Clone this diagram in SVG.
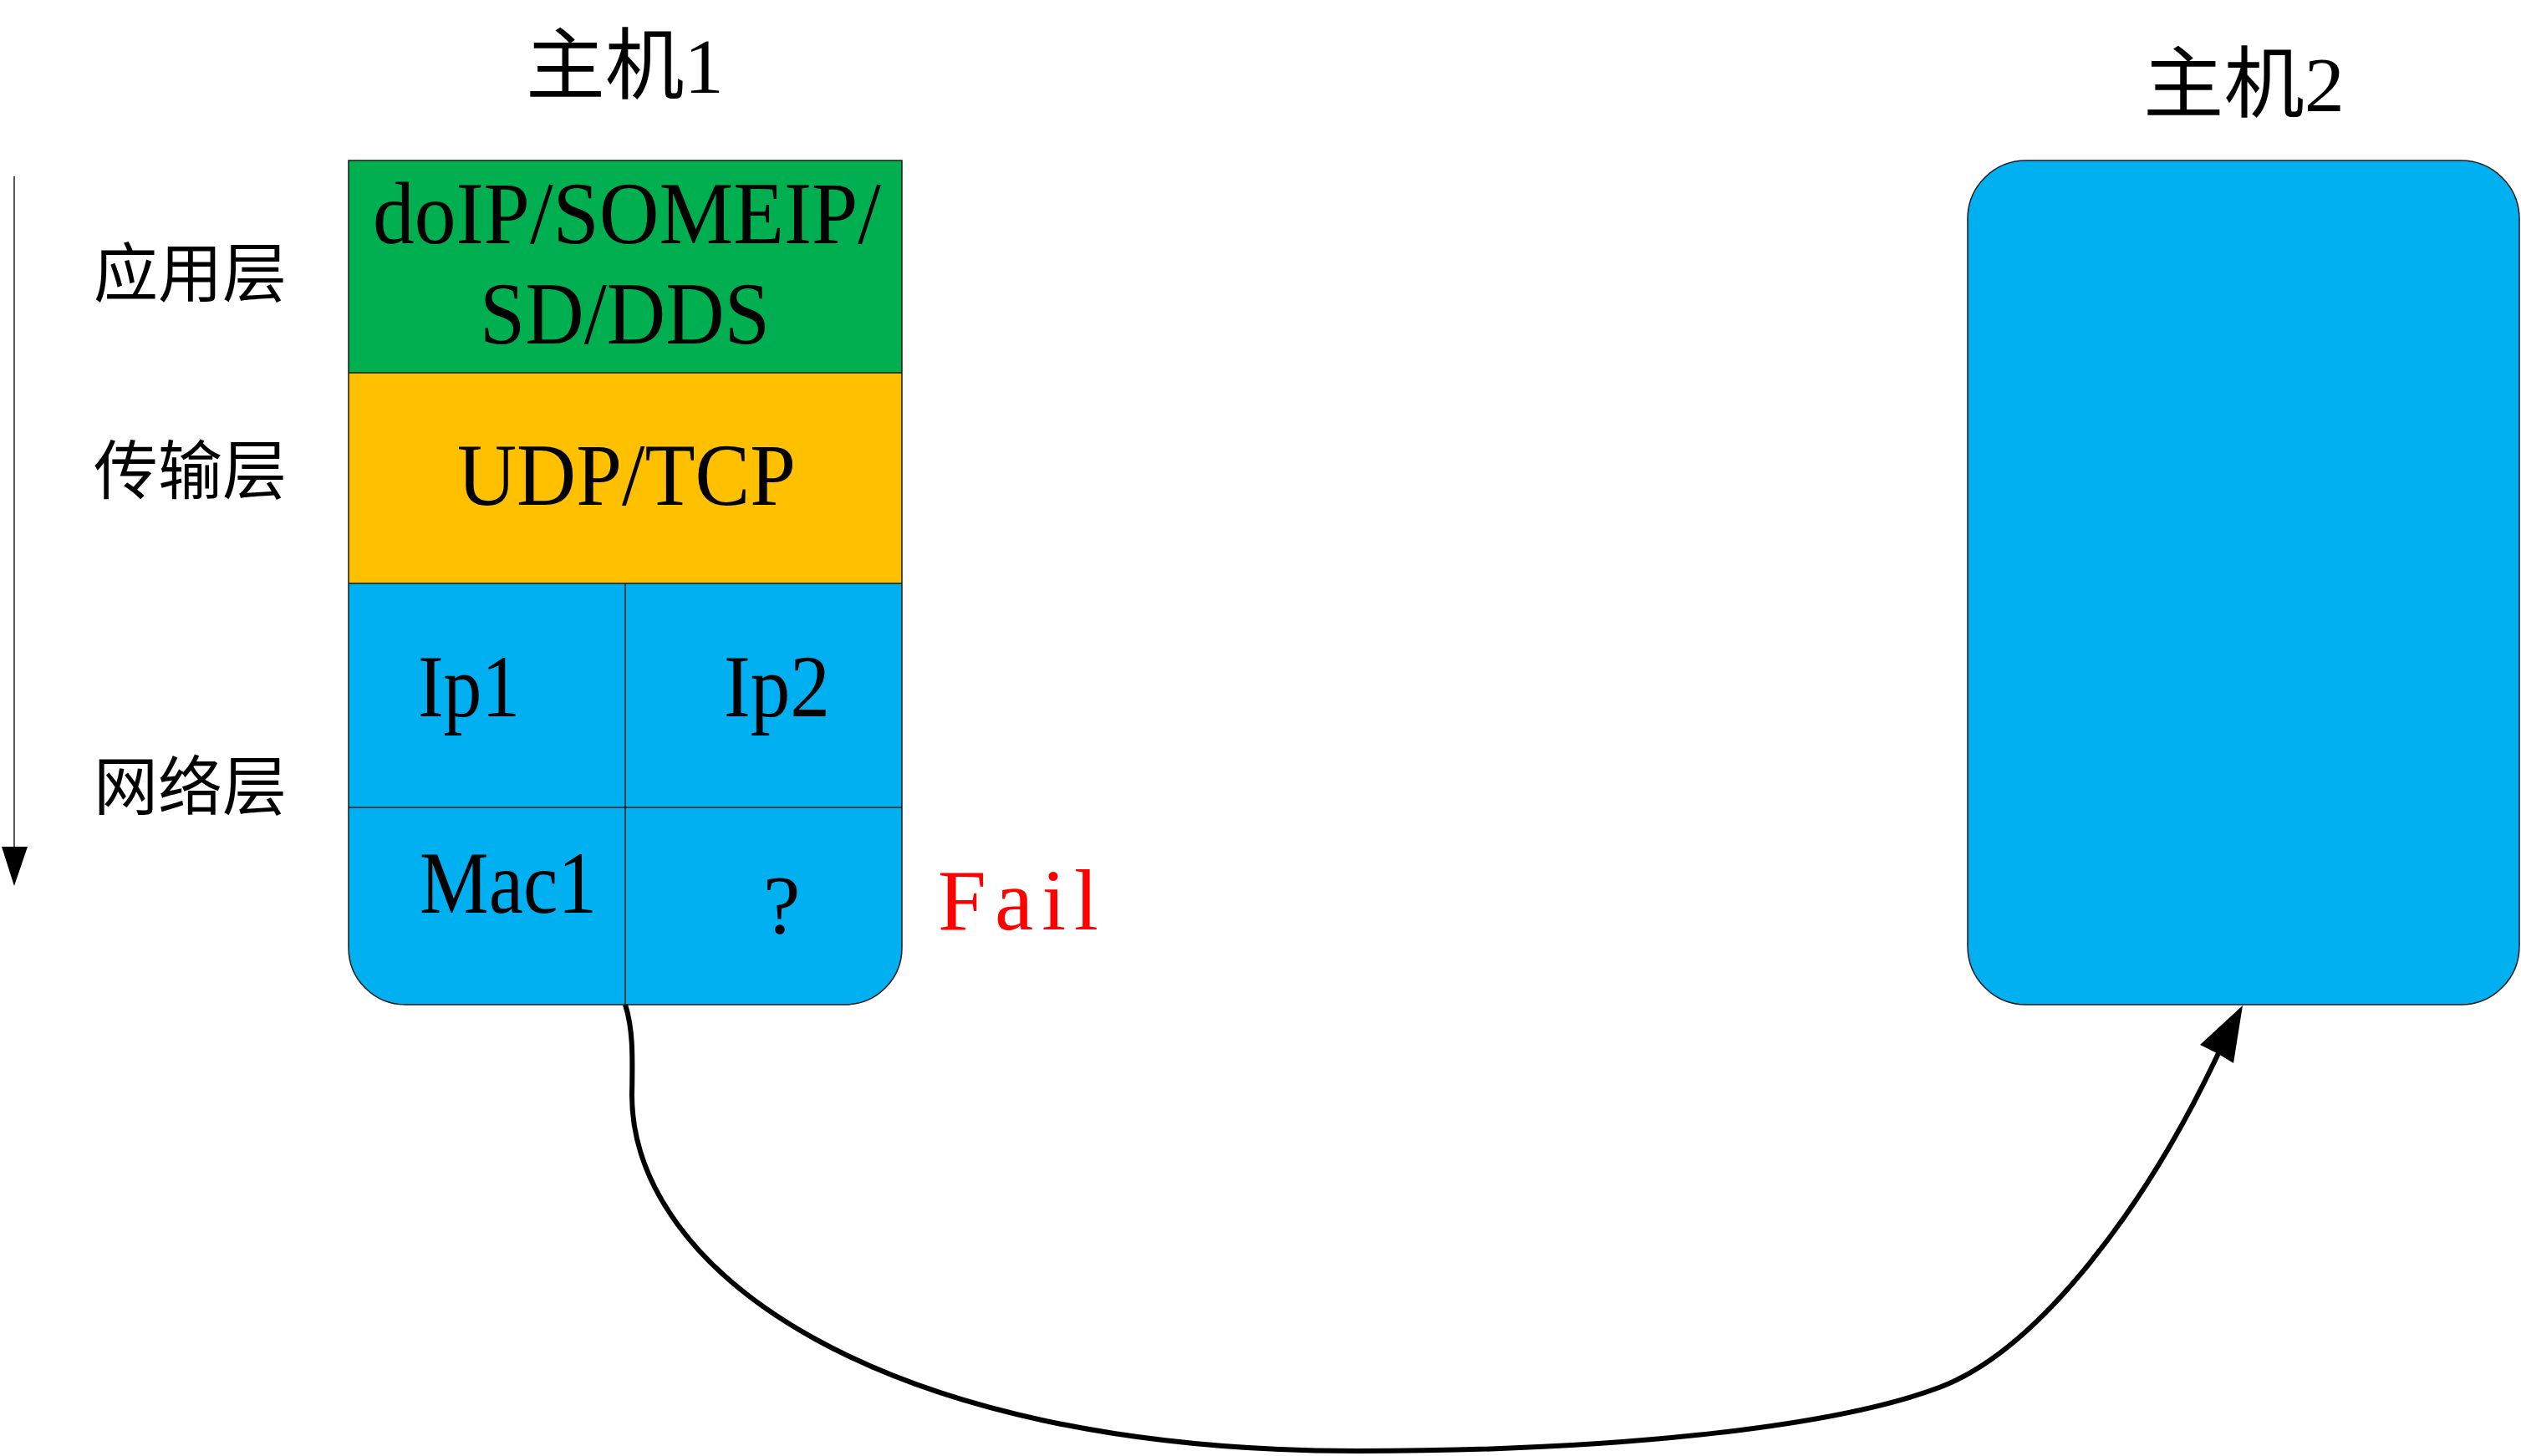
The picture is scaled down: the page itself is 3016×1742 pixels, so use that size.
<svg xmlns="http://www.w3.org/2000/svg" width="3016" height="1742" viewBox="0 0 3016 1742">
<style>
.lat{font-family:"Liberation Serif","Times New Roman",serif;fill:#000}
.cjk{font-family:"Liberation Serif","Noto Sans CJK SC",serif;fill:#000}
.edge{stroke:#1a1a1a;stroke-width:1.5;fill:none}
</style>
<rect width="3016" height="1742" fill="#fff"/>
<g id="host1">
<text class="cjk" x="629" y="111" font-size="93" textLength="237" lengthAdjust="spacingAndGlyphs">主机1</text>
<rect x="417" y="192" width="662" height="254" fill="#00B050"/>
<rect x="417" y="446" width="662" height="252" fill="#FFC000"/>
<path d="M417 698 H1079 V1134 A68 68 0 0 1 1011 1202 H485 A68 68 0 0 1 417 1134 Z" fill="#00B0F0"/>
<path class="edge" d="M417 192 H1079 V1134 A68 68 0 0 1 1011 1202 H485 A68 68 0 0 1 417 1134 Z"/>
<path class="edge" d="M417 446 H1079 M417 698 H1079 M417 966 H1079 M748 698 V1202"/>
<text class="lat" x="446" y="291" font-size="106" textLength="608" lengthAdjust="spacingAndGlyphs">doIP/SOMEIP/</text>
<text class="lat" x="574" y="411" font-size="106" textLength="347" lengthAdjust="spacingAndGlyphs">SD/DDS</text>
<text class="lat" x="547" y="604" font-size="106" textLength="405" lengthAdjust="spacingAndGlyphs">UDP/TCP</text>
<text class="lat" x="500" y="857" font-size="106" textLength="122" lengthAdjust="spacingAndGlyphs">Ip1</text>
<text class="lat" x="866" y="857" font-size="106" textLength="127" lengthAdjust="spacingAndGlyphs">Ip2</text>
<text class="lat" x="502" y="1092" font-size="106" textLength="212" lengthAdjust="spacingAndGlyphs">Mac1</text>
<text class="lat" x="913" y="1116" font-size="100">?</text>
</g>
<g id="fail">
<text x="1122" y="1112" font-size="104" fill="#FF0000" font-family="'Liberation Serif',serif" textLength="192" lengthAdjust="spacing">Fail</text>
</g>
<g id="layers">
<text class="cjk" x="112" y="355" font-size="77">应用层</text>
<text class="cjk" x="112" y="591" font-size="77">传输层</text>
<text class="cjk" x="112" y="969" font-size="77">网络层</text>
</g>
<g id="host2">
<text class="cjk" x="2564" y="133" font-size="93" textLength="241" lengthAdjust="spacingAndGlyphs">主机2</text>
<rect x="2354" y="192" width="660" height="1010" rx="70" ry="70" fill="#00B0F0" stroke="#1a1a1a" stroke-width="1.5"/>
</g>
<g id="connectors">
<line x1="17" y1="211" x2="17" y2="1015" stroke="#555" stroke-width="2"/>
<polygon points="2,1013 33,1013 17,1060" fill="#000"/>
<path d="M748 1202 C757 1230 757 1260 756 1310 C756 1520 1050 1736 1624 1736 C1950 1736 2200 1705 2320 1660 C2440 1615 2570 1440 2655 1258" fill="none" stroke="#000" stroke-width="6"/>
<polygon points="2683,1203 2632,1250 2654,1261 2672,1272" fill="#000"/>
</g>
</svg>
